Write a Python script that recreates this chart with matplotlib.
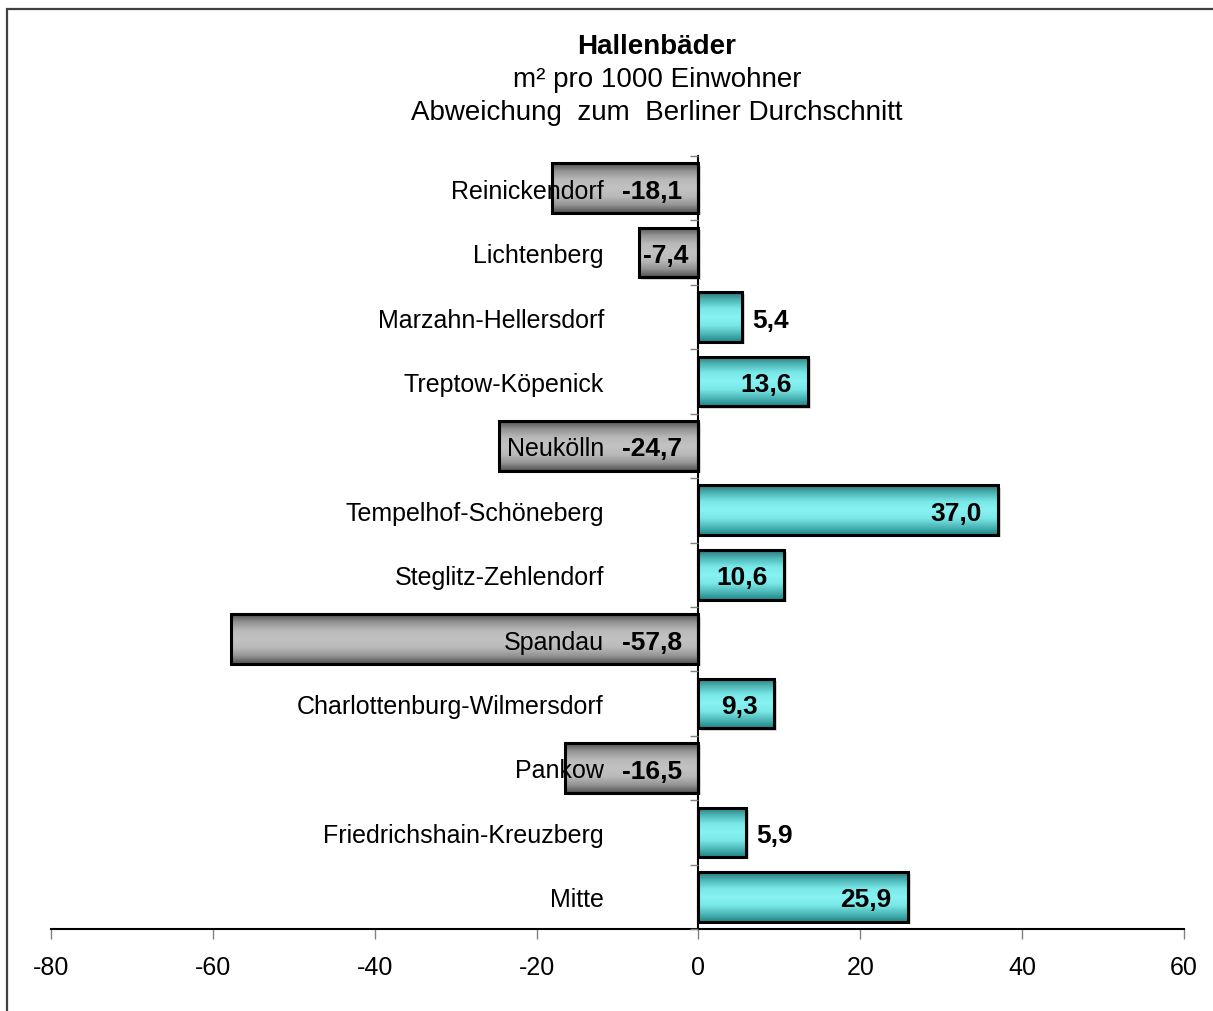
import matplotlib
matplotlib.use("Agg")
import matplotlib.pyplot as plt
import numpy as np
from matplotlib.colors import LinearSegmentedColormap
from matplotlib.patches import Rectangle

plt.rcParams['font.family'] = ['Liberation Sans', 'DejaVu Sans']

# bottom to top
bezirke = ["Mitte", "Friedrichshain-Kreuzberg", "Pankow", "Charlottenburg-Wilmersdorf",
           "Spandau", "Steglitz-Zehlendorf", "Tempelhof-Schöneberg", "Neukölln",
           "Treptow-Köpenick", "Marzahn-Hellersdorf", "Lichtenberg", "Reinickendorf"]
abweichung = [25.9, 5.9, -16.5, 9.3, -57.8, 10.6, 37.0, -24.7, 13.6, 5.4, -7.4, -18.1]
xticks = [-80, -60, -40, -20, 0, 20, 40, 60]

W, H = 1213, 1012
fig = plt.figure(figsize=(W / 100, H / 100), dpi=100)
ax = fig.add_axes([51 / W, 1 - 930 / H, (1184 - 51) / W, (930 - 157) / H])

# frame around the chart area
fig.patches.append(Rectangle((6.5 / W, -0.05), 1.2, 1 - 9.5 / H + 0.05, transform=fig.transFigure,
                             fill=False, edgecolor='#404040', linewidth=1.6, zorder=0))

grey_cmap = LinearSegmentedColormap.from_list('g', ['#505050', '#959595', '#bababa', '#c2c2c2', '#bababa', '#959595', '#505050'])
teal_cmap = LinearSegmentedColormap.from_list('t', ['#2a7476', '#4fb8b8', '#7ae8e8', '#88f2f2', '#7ae8e8', '#4fb8b8', '#1d8585'])
grad = np.linspace(0, 1, 256).reshape(-1, 1)

y = np.arange(len(bezirke))
h = 0.77
bars = ax.barh(y, abweichung, height=h, facecolor='none', edgecolor='black', linewidth=2.2, zorder=3)
for rect, v in zip(bars, abweichung):
    x0, y0 = rect.get_x(), rect.get_y()
    cmap = teal_cmap if v > 0 else grey_cmap
    ax.imshow(grad, cmap=cmap, aspect='auto', origin='upper',
              extent=[x0, x0 + rect.get_width(), y0, y0 + rect.get_height()], zorder=2)
    # light shadow
    ax.add_patch(Rectangle((x0 + 0.35, y0 - 0.035), rect.get_width(), rect.get_height(),
                           facecolor='#d8d8d8', edgecolor='none', zorder=1))

for yi, v in zip(y, abweichung):
    txt = f"{v:.1f}".replace('.', ',')
    ty = yi - 0.04
    if v < 0:
        xr = -1.2 if v > -10 else -2.0
        ax.text(xr, ty, txt, ha='right', va='center', fontsize=19, fontweight='bold', zorder=6)
    elif v > 8:
        ax.text(v - 2.0, ty, txt, ha='right', va='center', fontsize=19, fontweight='bold', zorder=6)
    else:
        ax.text(v + 1.2, ty, txt, ha='left', va='center', fontsize=19, fontweight='bold', zorder=6)

ax.set_xlim(-80, 60)
ax.set_ylim(-0.5, len(bezirke) - 0.5)
ax.set_xticks(xticks)
ax.set_xticklabels([str(t) for t in xticks], fontsize=18)
ax.tick_params(axis='x', length=7, width=1, color='#808080', pad=12)

ax.spines['left'].set_position(('data', 0))
ax.spines['left'].set_linewidth(1.5)
ax.spines['left'].set_zorder(4)
ax.set_yticks(y)
ax.set_yticklabels(bezirke, fontsize=18)
ax.yaxis.set_zorder(5)
ax.tick_params(axis='y', length=0, pad=68)
ax.set_yticks(np.arange(-0.5, len(bezirke), 1.0), minor=True)
ax.tick_params(axis='y', which='minor', length=6, width=1, color='#808080')

for s in ['top', 'right']:
    ax.spines[s].set_visible(False)
ax.spines['bottom'].set_linewidth(1.5)
ax.set_facecolor('none')

fig.text(657 / W, 1 - 47 / H, "Hallenbäder", ha='center', va='center', fontsize=20, fontweight='bold')
fig.text(657 / W, 1 - 80 / H, "m² pro 1000 Einwohner", ha='center', va='center', fontsize=20)
fig.text(657 / W, 1 - 113 / H, "Abweichung  zum  Berliner Durchschnitt", ha='center', va='center', fontsize=20)

plt.savefig('out.png', dpi=100)
